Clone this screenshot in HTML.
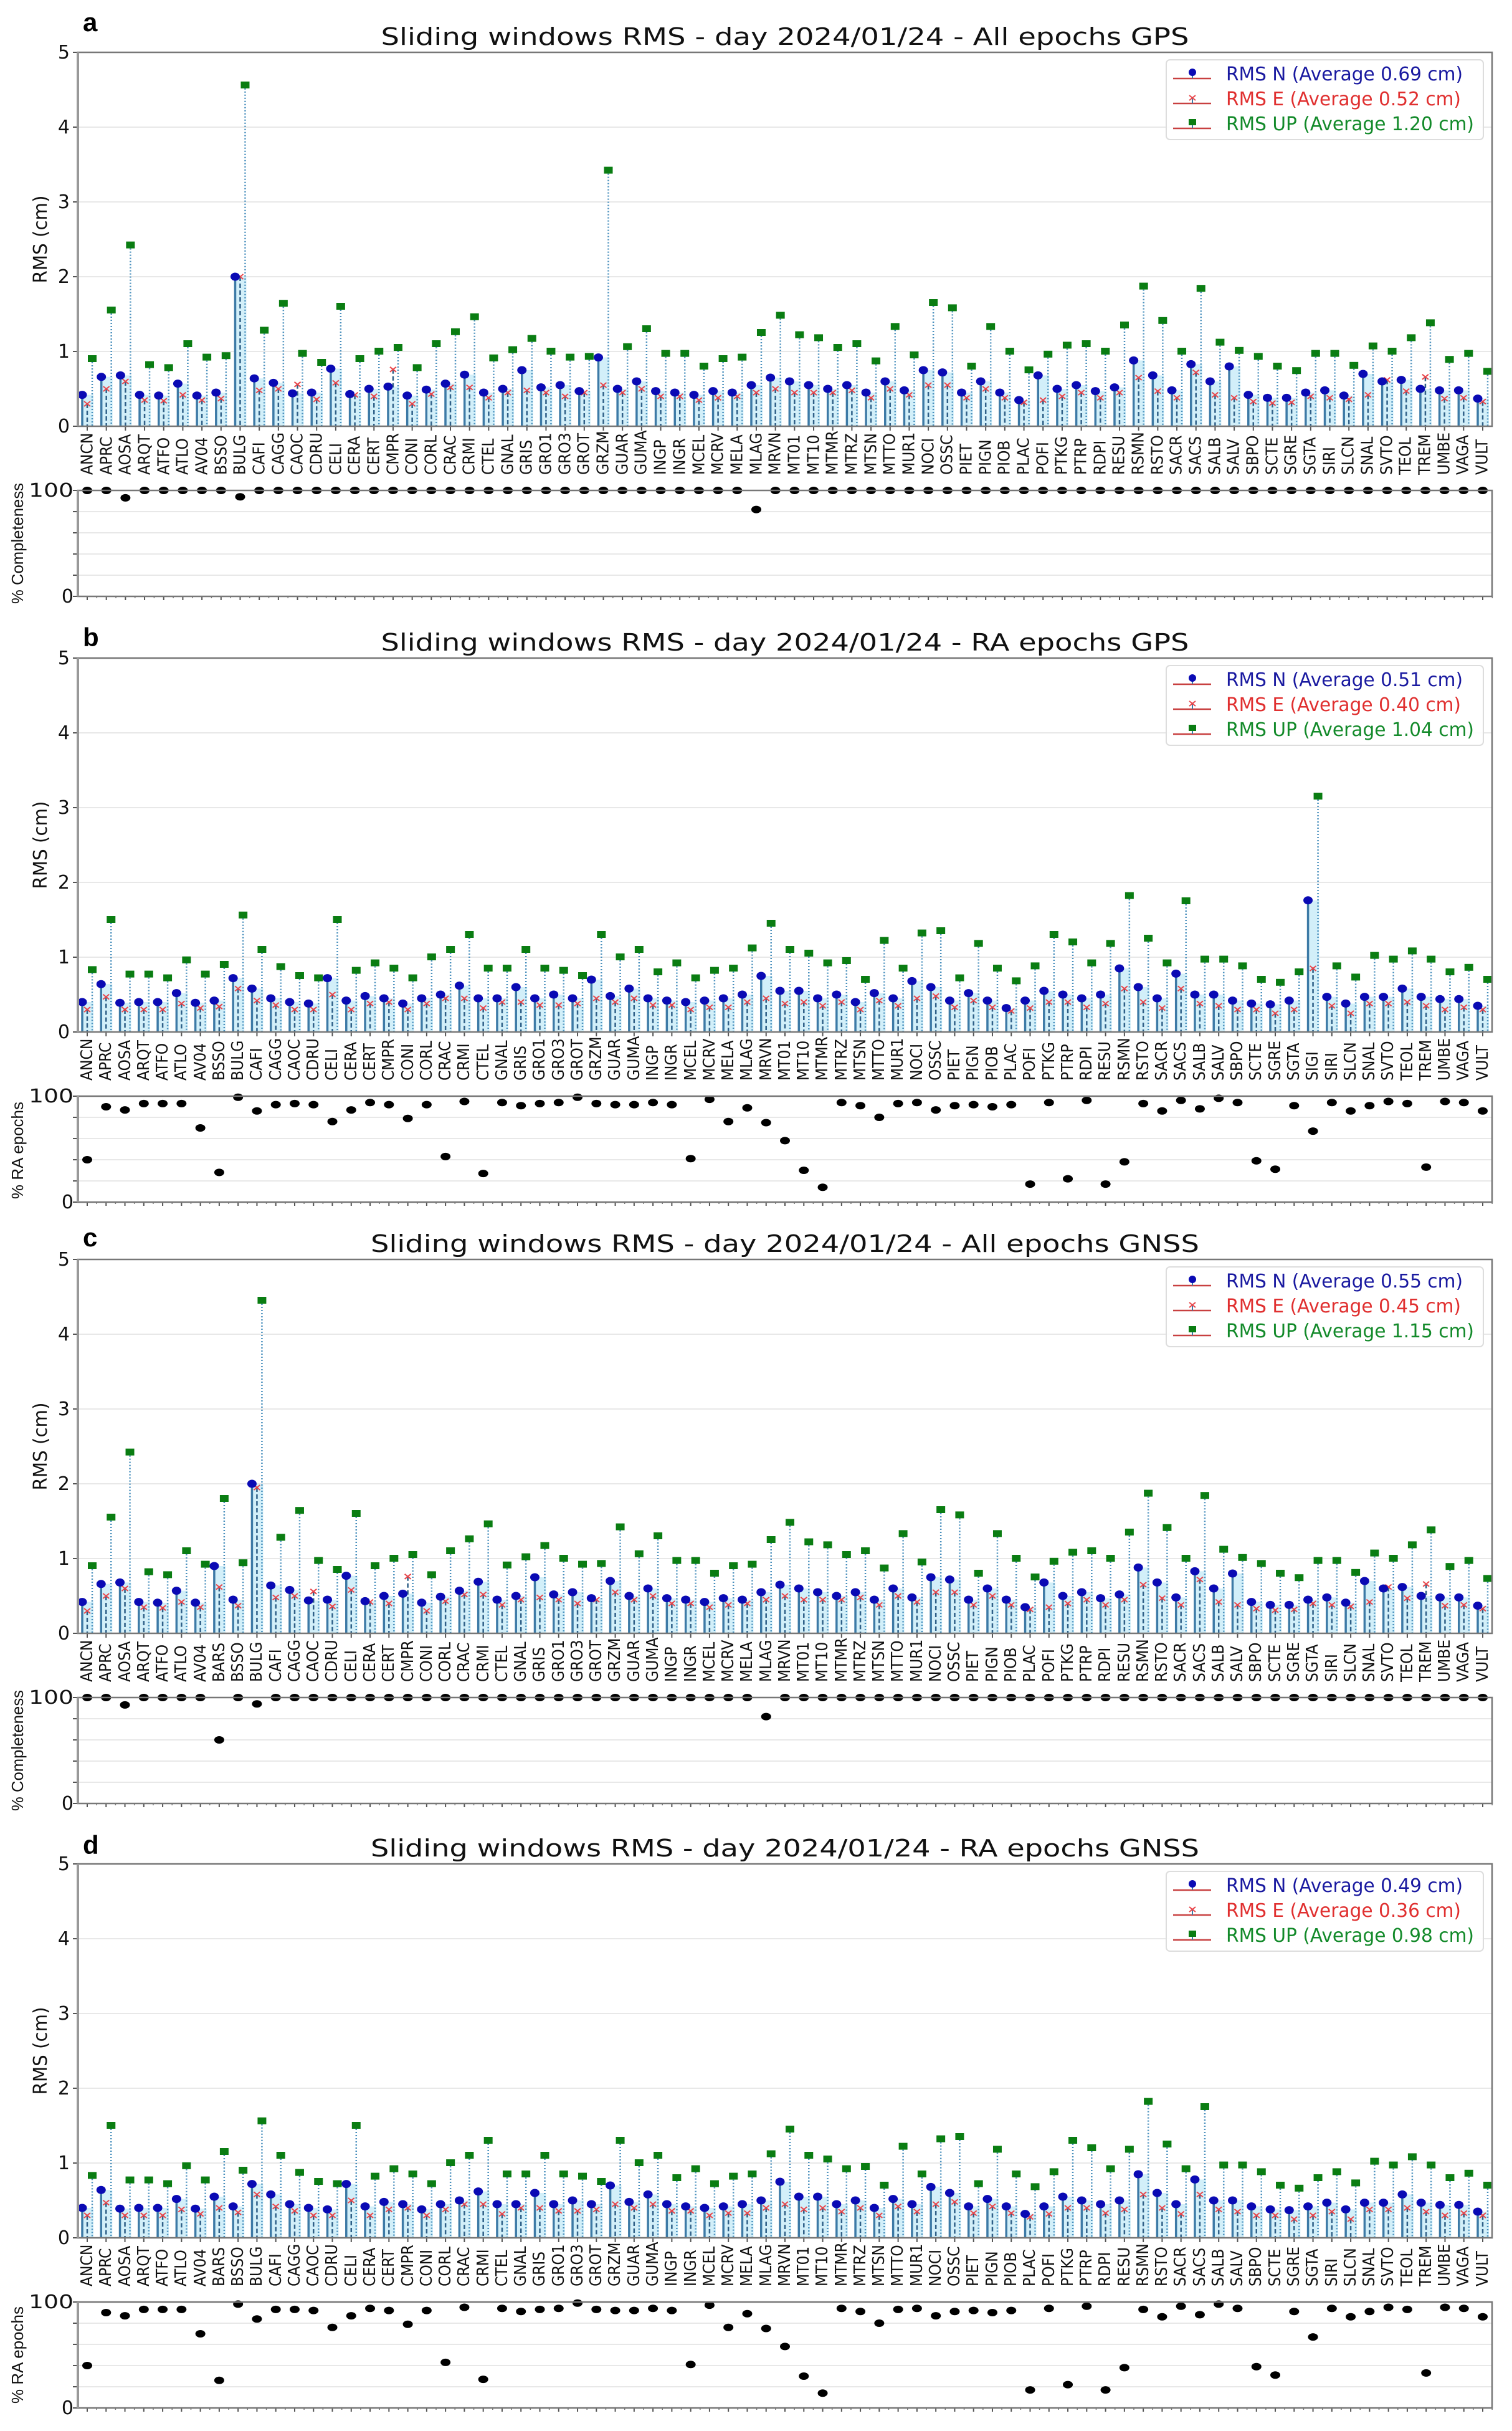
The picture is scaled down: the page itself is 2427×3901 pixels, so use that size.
<!DOCTYPE html>
<html><head><meta charset="utf-8">
<style>
html,body{margin:0;padding:0;background:#fff;}
body{width:2427px;height:3901px;position:relative;overflow:hidden;}
svg{position:absolute;left:0;top:0;}
.lab{position:absolute;left:125px;width:2270px;height:80px;display:flex;align-items:flex-start;}
.lab span{flex:1 1 0;display:flex;justify-content:flex-start;align-items:center;writing-mode:vertical-rl;transform:rotate(180deg);font-family:"Liberation Sans Narrow","DejaVu Sans Condensed","Liberation Sans",sans-serif;font-size:26px;color:#111;line-height:1;height:70px;}
</style></head><body>
<svg width="2427" height="3901" font-family="DejaVu Sans, Liberation Sans, sans-serif">
<g id="shapes"></g>
<g fill="#111" font-size="30" text-anchor="end">
<text x="112" y="94">5</text><text x="112" y="214">4</text><text x="112" y="334">3</text><text x="112" y="454">2</text><text x="112" y="574">1</text><text x="112" y="694">0</text>
<text x="118" y="797" textLength="72" lengthAdjust="spacingAndGlyphs">100</text><text x="118" y="967">0</text>
<text x="112" y="1066">5</text><text x="112" y="1186">4</text><text x="112" y="1306">3</text><text x="112" y="1426">2</text><text x="112" y="1546">1</text><text x="112" y="1666">0</text>
<text x="118" y="1769" textLength="72" lengthAdjust="spacingAndGlyphs">100</text><text x="118" y="1939">0</text>
<text x="112" y="2031">5</text><text x="112" y="2151">4</text><text x="112" y="2271">3</text><text x="112" y="2391">2</text><text x="112" y="2511">1</text><text x="112" y="2631">0</text>
<text x="118" y="2734" textLength="72" lengthAdjust="spacingAndGlyphs">100</text><text x="118" y="2904">0</text>
<text x="112" y="3001">5</text><text x="112" y="3121">4</text><text x="112" y="3241">3</text><text x="112" y="3361">2</text><text x="112" y="3481">1</text><text x="112" y="3601">0</text>
<text x="118" y="3704" textLength="72" lengthAdjust="spacingAndGlyphs">100</text><text x="118" y="3874">0</text>
</g>
<g fill="#111" font-size="38" text-anchor="middle">
<text x="1260" y="72" textLength="1297" lengthAdjust="spacingAndGlyphs">Sliding windows RMS - day 2024/01/24 - All epochs GPS</text>
<text x="1260" y="1044" textLength="1297" lengthAdjust="spacingAndGlyphs">Sliding windows RMS - day 2024/01/24 - RA epochs GPS</text>
<text x="1260" y="2009" textLength="1330" lengthAdjust="spacingAndGlyphs">Sliding windows RMS - day 2024/01/24 - All epochs GNSS</text>
<text x="1260" y="2979" textLength="1330" lengthAdjust="spacingAndGlyphs">Sliding windows RMS - day 2024/01/24 - RA epochs GNSS</text>
</g>
<g fill="#000" font-size="42" font-weight="bold" font-family="Liberation Sans, sans-serif">
<text x="133" y="50">a</text><text x="133" y="1037">b</text><text x="133" y="2000">c</text><text x="133" y="2975">d</text>
</g>
<g fill="#111" font-size="30" text-anchor="middle">
<text transform="translate(75,384) rotate(-90)" textLength="141" lengthAdjust="spacingAndGlyphs">RMS (cm)</text>
<text transform="translate(75,1356) rotate(-90)" textLength="141" lengthAdjust="spacingAndGlyphs">RMS (cm)</text>
<text transform="translate(75,2321) rotate(-90)" textLength="141" lengthAdjust="spacingAndGlyphs">RMS (cm)</text>
<text transform="translate(75,3291) rotate(-90)" textLength="141" lengthAdjust="spacingAndGlyphs">RMS (cm)</text>
</g>
<g fill="#111" font-size="26" text-anchor="middle" font-family="Liberation Sans Narrow, Liberation Sans, sans-serif">
<text transform="translate(37,872) rotate(-90)" textLength="194" lengthAdjust="spacingAndGlyphs">% Completeness</text>
<text transform="translate(37,1846) rotate(-90)" textLength="156" lengthAdjust="spacingAndGlyphs">% RA epochs</text>
<text transform="translate(37,2809) rotate(-90)" textLength="194" lengthAdjust="spacingAndGlyphs">% Completeness</text>
<text transform="translate(37,3779) rotate(-90)" textLength="156" lengthAdjust="spacingAndGlyphs">% RA epochs</text>
</g>
<g font-size="30">
<text x="1968" y="129" fill="#1a1aa0" textLength="380" lengthAdjust="spacingAndGlyphs">RMS N (Average 0.69 cm)</text>
<text x="1968" y="169" fill="#e03030" textLength="377" lengthAdjust="spacingAndGlyphs">RMS E (Average 0.52 cm)</text>
<text x="1968" y="209" fill="#138a2a" textLength="398" lengthAdjust="spacingAndGlyphs">RMS UP (Average 1.20 cm)</text>
<text x="1968" y="1101" fill="#1a1aa0" textLength="380" lengthAdjust="spacingAndGlyphs">RMS N (Average 0.51 cm)</text>
<text x="1968" y="1141" fill="#e03030" textLength="377" lengthAdjust="spacingAndGlyphs">RMS E (Average 0.40 cm)</text>
<text x="1968" y="1181" fill="#138a2a" textLength="398" lengthAdjust="spacingAndGlyphs">RMS UP (Average 1.04 cm)</text>
<text x="1968" y="2066" fill="#1a1aa0" textLength="380" lengthAdjust="spacingAndGlyphs">RMS N (Average 0.55 cm)</text>
<text x="1968" y="2106" fill="#e03030" textLength="377" lengthAdjust="spacingAndGlyphs">RMS E (Average 0.45 cm)</text>
<text x="1968" y="2146" fill="#138a2a" textLength="398" lengthAdjust="spacingAndGlyphs">RMS UP (Average 1.15 cm)</text>
<text x="1968" y="3036" fill="#1a1aa0" textLength="380" lengthAdjust="spacingAndGlyphs">RMS N (Average 0.49 cm)</text>
<text x="1968" y="3076" fill="#e03030" textLength="377" lengthAdjust="spacingAndGlyphs">RMS E (Average 0.36 cm)</text>
<text x="1968" y="3116" fill="#138a2a" textLength="398" lengthAdjust="spacingAndGlyphs">RMS UP (Average 0.98 cm)</text>
</g>
</svg>

<div class="lab" style="top:692px"><span>ANCN</span><span>APRC</span><span>AOSA</span><span>ARQT</span><span>ATFO</span><span>ATLO</span><span>AV04</span><span>BSSO</span><span>BULG</span><span>CAFI</span><span>CAGG</span><span>CAOC</span><span>CDRU</span><span>CELI</span><span>CERA</span><span>CERT</span><span>CMPR</span><span>CONI</span><span>CORL</span><span>CRAC</span><span>CRMI</span><span>CTEL</span><span>GNAL</span><span>GRIS</span><span>GRO1</span><span>GRO3</span><span>GROT</span><span>GRZM</span><span>GUAR</span><span>GUMA</span><span>INGP</span><span>INGR</span><span>MCEL</span><span>MCRV</span><span>MELA</span><span>MLAG</span><span>MRVN</span><span>MT01</span><span>MT10</span><span>MTMR</span><span>MTRZ</span><span>MTSN</span><span>MTTO</span><span>MUR1</span><span>NOCI</span><span>OSSC</span><span>PIET</span><span>PIGN</span><span>PIOB</span><span>PLAC</span><span>POFI</span><span>PTKG</span><span>PTRP</span><span>RDPI</span><span>RESU</span><span>RSMN</span><span>RSTO</span><span>SACR</span><span>SACS</span><span>SALB</span><span>SALV</span><span>SBPO</span><span>SCTE</span><span>SGRE</span><span>SGTA</span><span>SIRI</span><span>SLCN</span><span>SNAL</span><span>SVTO</span><span>TEOL</span><span>TREM</span><span>UMBE</span><span>VAGA</span><span>VULT</span></div>

<div class="lab" style="top:1664px"><span>ANCN</span><span>APRC</span><span>AOSA</span><span>ARQT</span><span>ATFO</span><span>ATLO</span><span>AV04</span><span>BSSO</span><span>BULG</span><span>CAFI</span><span>CAGG</span><span>CAOC</span><span>CDRU</span><span>CELI</span><span>CERA</span><span>CERT</span><span>CMPR</span><span>CONI</span><span>CORL</span><span>CRAC</span><span>CRMI</span><span>CTEL</span><span>GNAL</span><span>GRIS</span><span>GRO1</span><span>GRO3</span><span>GROT</span><span>GRZM</span><span>GUAR</span><span>GUMA</span><span>INGP</span><span>INGR</span><span>MCEL</span><span>MCRV</span><span>MELA</span><span>MLAG</span><span>MRVN</span><span>MT01</span><span>MT10</span><span>MTMR</span><span>MTRZ</span><span>MTSN</span><span>MTTO</span><span>MUR1</span><span>NOCI</span><span>OSSC</span><span>PIET</span><span>PIGN</span><span>PIOB</span><span>PLAC</span><span>POFI</span><span>PTKG</span><span>PTRP</span><span>RDPI</span><span>RESU</span><span>RSMN</span><span>RSTO</span><span>SACR</span><span>SACS</span><span>SALB</span><span>SALV</span><span>SBPO</span><span>SCTE</span><span>SGRE</span><span>SGTA</span><span>SIGI</span><span>SIRI</span><span>SLCN</span><span>SNAL</span><span>SVTO</span><span>TEOL</span><span>TREM</span><span>UMBE</span><span>VAGA</span><span>VULT</span></div>

<div class="lab" style="top:2629px"><span>ANCN</span><span>APRC</span><span>AOSA</span><span>ARQT</span><span>ATFO</span><span>ATLO</span><span>AV04</span><span>BARS</span><span>BSSO</span><span>BULG</span><span>CAFI</span><span>CAGG</span><span>CAOC</span><span>CDRU</span><span>CELI</span><span>CERA</span><span>CERT</span><span>CMPR</span><span>CONI</span><span>CORL</span><span>CRAC</span><span>CRMI</span><span>CTEL</span><span>GNAL</span><span>GRIS</span><span>GRO1</span><span>GRO3</span><span>GROT</span><span>GRZM</span><span>GUAR</span><span>GUMA</span><span>INGP</span><span>INGR</span><span>MCEL</span><span>MCRV</span><span>MELA</span><span>MLAG</span><span>MRVN</span><span>MT01</span><span>MT10</span><span>MTMR</span><span>MTRZ</span><span>MTSN</span><span>MTTO</span><span>MUR1</span><span>NOCI</span><span>OSSC</span><span>PIET</span><span>PIGN</span><span>PIOB</span><span>PLAC</span><span>POFI</span><span>PTKG</span><span>PTRP</span><span>RDPI</span><span>RESU</span><span>RSMN</span><span>RSTO</span><span>SACR</span><span>SACS</span><span>SALB</span><span>SALV</span><span>SBPO</span><span>SCTE</span><span>SGRE</span><span>SGTA</span><span>SIRI</span><span>SLCN</span><span>SNAL</span><span>SVTO</span><span>TEOL</span><span>TREM</span><span>UMBE</span><span>VAGA</span><span>VULT</span></div>

<div class="lab" style="top:3599px"><span>ANCN</span><span>APRC</span><span>AOSA</span><span>ARQT</span><span>ATFO</span><span>ATLO</span><span>AV04</span><span>BARS</span><span>BSSO</span><span>BULG</span><span>CAFI</span><span>CAGG</span><span>CAOC</span><span>CDRU</span><span>CELI</span><span>CERA</span><span>CERT</span><span>CMPR</span><span>CONI</span><span>CORL</span><span>CRAC</span><span>CRMI</span><span>CTEL</span><span>GNAL</span><span>GRIS</span><span>GRO1</span><span>GRO3</span><span>GROT</span><span>GRZM</span><span>GUAR</span><span>GUMA</span><span>INGP</span><span>INGR</span><span>MCEL</span><span>MCRV</span><span>MELA</span><span>MLAG</span><span>MRVN</span><span>MT01</span><span>MT10</span><span>MTMR</span><span>MTRZ</span><span>MTSN</span><span>MTTO</span><span>MUR1</span><span>NOCI</span><span>OSSC</span><span>PIET</span><span>PIGN</span><span>PIOB</span><span>PLAC</span><span>POFI</span><span>PTKG</span><span>PTRP</span><span>RDPI</span><span>RESU</span><span>RSMN</span><span>RSTO</span><span>SACR</span><span>SACS</span><span>SALB</span><span>SALV</span><span>SBPO</span><span>SCTE</span><span>SGRE</span><span>SGTA</span><span>SIRI</span><span>SLCN</span><span>SNAL</span><span>SVTO</span><span>TEOL</span><span>TREM</span><span>UMBE</span><span>VAGA</span><span>VULT</span></div>

<script>
var AN=[42,66,68,42,41,57,41,45,200,64,58,44,45,77,43,50,53,41,49,57,69,45,50,75,52,55,47,92,50,60,47,45,42,47,45,55,65,60,55,50,55,45,60,48,75,72,45,60,45,35,68,50,55,47,52,88,68,48,83,60,80,42,38,38,45,48,41,70,60,62,50,48,48,37];
var AE=[30,50,60,35,34,42,35,37,200,48,50,56,36,58,42,40,76,30,43,52,52,38,45,48,45,40,45,55,45,50,40,40,35,38,40,45,50,45,45,45,48,38,50,42,55,55,38,50,38,32,35,40,45,38,45,65,47,38,72,42,38,33,31,32,40,38,36,42,62,47,66,37,38,33];
var AU=[90,155,242,82,78,110,92,94,456,128,164,97,85,160,90,100,105,78,110,126,146,91,102,117,100,92,93,342,106,130,97,97,80,90,92,125,148,122,118,105,110,87,133,95,165,158,80,133,100,75,96,108,110,100,135,187,141,100,184,112,101,93,80,74,97,97,81,107,100,118,138,89,97,73];
var AP=AN.map(function(){return 100});AP[2]=93;AP[8]=94;AP[35]=82;
var BN=[40,64,39,40,40,52,39,42,72,58,45,40,38,72,42,48,45,38,45,50,62,45,45,60,45,50,45,70,48,58,45,42,40,42,45,50,75,55,55,45,50,40,52,45,68,60,42,52,42,32,42,55,50,45,50,85,60,45,78,50,50,42,38,37,42,176,47,38,47,47,58,47,44,44,35];
var BE=[30,47,30,30,30,38,32,34,58,42,36,30,30,50,30,38,40,30,38,45,45,32,40,40,36,36,38,45,40,45,36,36,30,33,33,40,45,38,40,35,40,30,42,35,45,48,33,42,33,28,32,40,40,33,38,58,40,32,58,38,35,30,30,25,30,85,35,25,38,38,40,35,30,33,30];
var BU=[83,150,77,77,72,96,77,90,156,110,87,75,72,150,82,92,85,72,100,110,130,85,85,110,85,82,75,130,100,110,80,92,72,82,85,112,145,110,105,92,95,70,122,85,132,135,72,118,85,68,88,130,120,92,118,182,125,92,175,97,97,88,70,66,80,315,88,73,102,97,108,97,80,86,70];
var BP=[40,90,87,93,93,93,70,28,99,86,92,93,92,76,87,94,92,79,92,43,95,27,94,91,93,94,99,93,92,92,94,92,41,97,76,89,75,58,30,14,94,91,80,93,94,87,91,92,90,92,17,94,22,96,17,38,93,86,96,88,98,94,39,31,91,67,94,86,91,95,93,33,95,94,86];
function ins(a,i,v){a=a.slice();a.splice(i,0,v);return a}
function rm(a,i){a=a.slice();a.splice(i,1);return a}
var CN=AN.slice();CN[27]=70;var CE=AE.slice();CE[8]=195;var CU=AU.slice();CU[27]=142;CU[8]=445;
CN=ins(CN,7,90);CE=ins(CE,7,62);CU=ins(CU,7,180);var CP=ins(AP,7,60);
var DN=ins(rm(BN,65),7,55),DE=ins(rm(BE,65),7,40),DU=ins(rm(BU,65),7,115);
var DP=BP.slice();DP[7]=26;DP[8]=98;DP[9]=84;DP[10]=93;
var pan=[{T:84,n:AN,e:AE,u:AU,p:AP},{T:1056,n:BN,e:BE,u:BU,p:BP},{T:2021,n:CN,e:CE,u:CU,p:CP},{T:2991,n:DN,e:DE,u:DU,p:DP}];
var s='';
pan.forEach(function(P){
 var T=P.T,L=P.n.length,dx=2240/(L-1),Z=T+600,S0=T+703,S1=T+873,k,i;
 for(k=1;k<5;k++)s+='<line x1="127" x2="2394" y1="'+(Z-120*k)+'" y2="'+(Z-120*k)+'" stroke="#e8e8e8" stroke-width="2"/>';
 for(k=1;k<5;k++)s+='<line x1="127" x2="2394" y1="'+(S1-34*k)+'" y2="'+(S1-34*k)+'" stroke="#e8e8e8" stroke-width="2"/>';
 for(k=0;k<6;k++)s+='<line x1="117" x2="125" y1="'+(Z-120*k)+'" y2="'+(Z-120*k)+'" stroke="#555" stroke-width="2"/>';
 for(k=0;k<6;k++)s+='<line x1="117" x2="125" y1="'+(S1-34*k)+'" y2="'+(S1-34*k)+'" stroke="#555" stroke-width="2"/>';
 for(i=0;i<L;i++){
  var x=132+dx*i,yn=Z-P.n[i]*1.2,ye=Z-P.e[i]*1.2,yu=Z-P.u[i]*1.2;
  s+='<rect x="'+(x-1)+'" y="'+yn+'" width="19" height="'+(Z-yn)+'" fill="#d2eff9"/>';
  s+='<line x1="'+(x+16)+'" x2="'+(x+16)+'" y1="'+yu+'" y2="'+Z+'" stroke="#4a90bd" stroke-width="2.5" stroke-dasharray="2,3"/>';
  s+='<line x1="'+(x+8)+'" x2="'+(x+8)+'" y1="'+ye+'" y2="'+Z+'" stroke="#2f6088" stroke-width="2.5" stroke-dasharray="7,4"/>';
  s+='<line x1="'+x+'" x2="'+x+'" y1="'+yn+'" y2="'+Z+'" stroke="#3d7aa6" stroke-width="3.5"/>';
  s+='<rect x="'+(x+9)+'" y="'+(yu-6)+'" width="14" height="11" fill="#0a7d12"/>';
  s+='<path d="M'+(x+3)+' '+(ye-4)+'L'+(x+13)+' '+(ye+4)+'M'+(x+3)+' '+(ye+4)+'L'+(x+13)+' '+(ye-4)+'" stroke="#e8454a" stroke-width="2"/>';
  s+='<ellipse cx="'+x+'" cy="'+yn+'" rx="7.5" ry="6.5" fill="#0a0ab4"/>';
  var tx=x+8;
  s+='<line x1="'+tx+'" x2="'+tx+'" y1="'+Z+'" y2="'+(Z+7)+'" stroke="#555" stroke-width="2"/>';
  s+='<line x1="'+tx+'" x2="'+tx+'" y1="'+S1+'" y2="'+(S1+6)+'" stroke="#555" stroke-width="2"/>';
  s+='<line x1="'+(tx+dx/2)+'" x2="'+(tx+dx/2)+'" y1="'+S1+'" y2="'+(S1+3)+'" stroke="#777" stroke-width="1.5"/>';
  s+='<ellipse cx="'+tx+'" cy="'+(S1-P.p[i]*1.7)+'" rx="8" ry="6" fill="#000"/>';
 }
 s+='<line x1="125" x2="2395" y1="'+Z+'" y2="'+Z+'" stroke="#c84040" stroke-width="2"/>';
 s+='<rect x="125" y="'+T+'" width="2270" height="600" fill="none" stroke="#777" stroke-width="2.5"/>';
 s+='<rect x="125" y="'+S0+'" width="2270" height="170" fill="none" stroke="#777" stroke-width="2.5"/>';
 s+='<line x1="125" x2="125" y1="'+T+'" y2="'+Z+'" stroke="#999" stroke-width="4"/>';
 s+='<line x1="125" x2="125" y1="'+S0+'" y2="'+S1+'" stroke="#999" stroke-width="4"/>';
 s+='<rect x="1872" y="'+(T+12)+'" width="509" height="128" rx="6" fill="#fff" fill-opacity="0.9" stroke="#ddd" stroke-width="2"/>';
 var cols=['#0a0ab4','#e8454a','#0a7d12'];
 for(k=0;k<3;k++){var yy=T+42+40*k;
  s+='<line x1="1883" x2="1944" y1="'+yy+'" y2="'+yy+'" stroke="#c84040" stroke-width="2.5"/>';
  s+='<line x1="1914" x2="1914" y1="'+(yy-8)+'" y2="'+yy+'" stroke="#3d7aa6" stroke-width="2"/>';
  if(k==0)s+='<circle cx="1914" cy="'+(yy-10)+'" r="6" fill="'+cols[0]+'"/>';
  if(k==1)s+='<path d="M1909 '+(yy-13)+'L1919 '+(yy-5)+'M1909 '+(yy-5)+'L1919 '+(yy-13)+'" stroke="'+cols[1]+'" stroke-width="2"/>';
  if(k==2)s+='<rect x="1908" y="'+(yy-15)+'" width="12" height="10" fill="'+cols[2]+'"/>';
 }
});
document.getElementById('shapes').innerHTML=s;
</script>
</body></html>
